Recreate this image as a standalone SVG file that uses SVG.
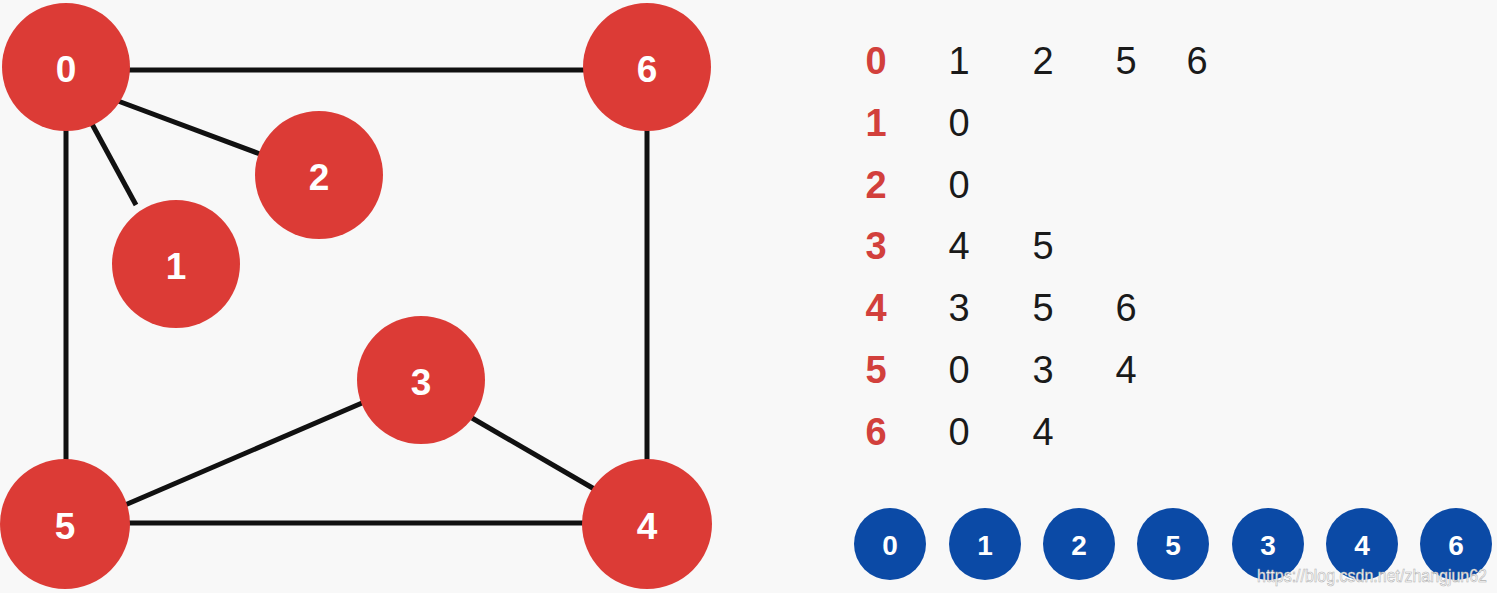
<svg xmlns="http://www.w3.org/2000/svg" width="1497" height="593" viewBox="0 0 1497 593">
<style>
.bg{fill:#f8f8f8}
.rn{fill:#dc3b36}
.bn{fill:#0b4aa6}
.edge{stroke:#111;stroke-width:5;stroke-linecap:butt;fill:none}
.lbl{font-family:"Liberation Sans",Arial,sans-serif;font-size:37px;font-weight:bold;fill:#fff;text-anchor:middle;dominant-baseline:central}
.blbl{font-family:"Liberation Sans",Arial,sans-serif;font-size:28px;font-weight:bold;fill:#fff;text-anchor:middle;dominant-baseline:central}
.key{font-family:"Liberation Sans",Arial,sans-serif;font-size:38px;font-weight:bold;fill:#d2403c;text-anchor:middle;dominant-baseline:central}
.val{font-family:"Liberation Sans",Arial,sans-serif;font-size:38px;fill:#1a1a1a;text-anchor:middle;dominant-baseline:central}
.wm{font-family:"Liberation Sans",Arial,sans-serif;font-size:19px;fill:#ffffff;stroke:#b0b0b0;stroke-width:0.6}
</style>
<rect class="bg" x="0" y="0" width="1497" height="593"/>
<g id="connectors">
<line class="edge" x1="125" y1="70" x2="590" y2="70"/>
<line class="edge" x1="118" y1="101" x2="260" y2="154"/>
<line class="edge" x1="92" y1="124" x2="136" y2="205"/>
<line class="edge" x1="66" y1="125" x2="66" y2="465"/>
<line class="edge" x1="647" y1="125" x2="647" y2="465"/>
<line class="edge" x1="125" y1="505" x2="362" y2="403"/>
<line class="edge" x1="472" y1="418" x2="596" y2="490"/>
<line class="edge" x1="128" y1="523" x2="586" y2="523"/>
</g>
<g id="node0"><circle class="rn" cx="66" cy="67" r="64"/><text class="lbl" x="66" y="69">0</text></g>
<g id="node6"><circle class="rn" cx="647" cy="67" r="64"/><text class="lbl" x="647" y="69">6</text></g>
<g id="node2"><circle class="rn" cx="319" cy="175" r="64"/><text class="lbl" x="319" y="177">2</text></g>
<g id="node1"><circle class="rn" cx="176" cy="264" r="64"/><text class="lbl" x="176" y="266">1</text></g>
<g id="node3"><circle class="rn" cx="421" cy="380" r="64"/><text class="lbl" x="421" y="382">3</text></g>
<g id="node5"><circle class="rn" cx="65" cy="524" r="65"/><text class="lbl" x="65" y="526">5</text></g>
<g id="node4"><circle class="rn" cx="647" cy="524" r="65"/><text class="lbl" x="647" y="526">4</text></g>
<g id="adjacency">
<text class="key" x="876" y="61">0</text><text class="val" x="959" y="61">1</text><text class="val" x="1043" y="61">2</text><text class="val" x="1126" y="61">5</text><text class="val" x="1197" y="61">6</text>
<text class="key" x="876" y="123">1</text><text class="val" x="959" y="123">0</text>
<text class="key" x="876" y="185">2</text><text class="val" x="959" y="185">0</text>
<text class="key" x="876" y="246">3</text><text class="val" x="959" y="246">4</text><text class="val" x="1043" y="246">5</text>
<text class="key" x="876" y="308">4</text><text class="val" x="959" y="308">3</text><text class="val" x="1043" y="308">5</text><text class="val" x="1126" y="308">6</text>
<text class="key" x="876" y="370">5</text><text class="val" x="959" y="370">0</text><text class="val" x="1043" y="370">3</text><text class="val" x="1126" y="370">4</text>
<text class="key" x="876" y="432">6</text><text class="val" x="959" y="432">0</text><text class="val" x="1043" y="432">4</text>
</g>
<g id="order">
<g id="q0"><circle class="bn" cx="890" cy="544" r="36"/><text class="blbl" x="890" y="545">0</text></g>
<g id="q1"><circle class="bn" cx="985" cy="544" r="36"/><text class="blbl" x="985" y="545">1</text></g>
<g id="q2"><circle class="bn" cx="1079" cy="544" r="36"/><text class="blbl" x="1079" y="545">2</text></g>
<g id="q5"><circle class="bn" cx="1173" cy="544" r="36"/><text class="blbl" x="1173" y="545">5</text></g>
<g id="q3"><circle class="bn" cx="1268" cy="544" r="36"/><text class="blbl" x="1268" y="545">3</text></g>
<g id="q4"><circle class="bn" cx="1362" cy="544" r="36"/><text class="blbl" x="1362" y="545">4</text></g>
<g id="q6"><circle class="bn" cx="1456" cy="544" r="36"/><text class="blbl" x="1456" y="545">6</text></g>
</g>
<text class="wm" x="1257" y="582" textLength="230" lengthAdjust="spacingAndGlyphs">https://blog.csdn.net/zhangjun62</text>
</svg>
